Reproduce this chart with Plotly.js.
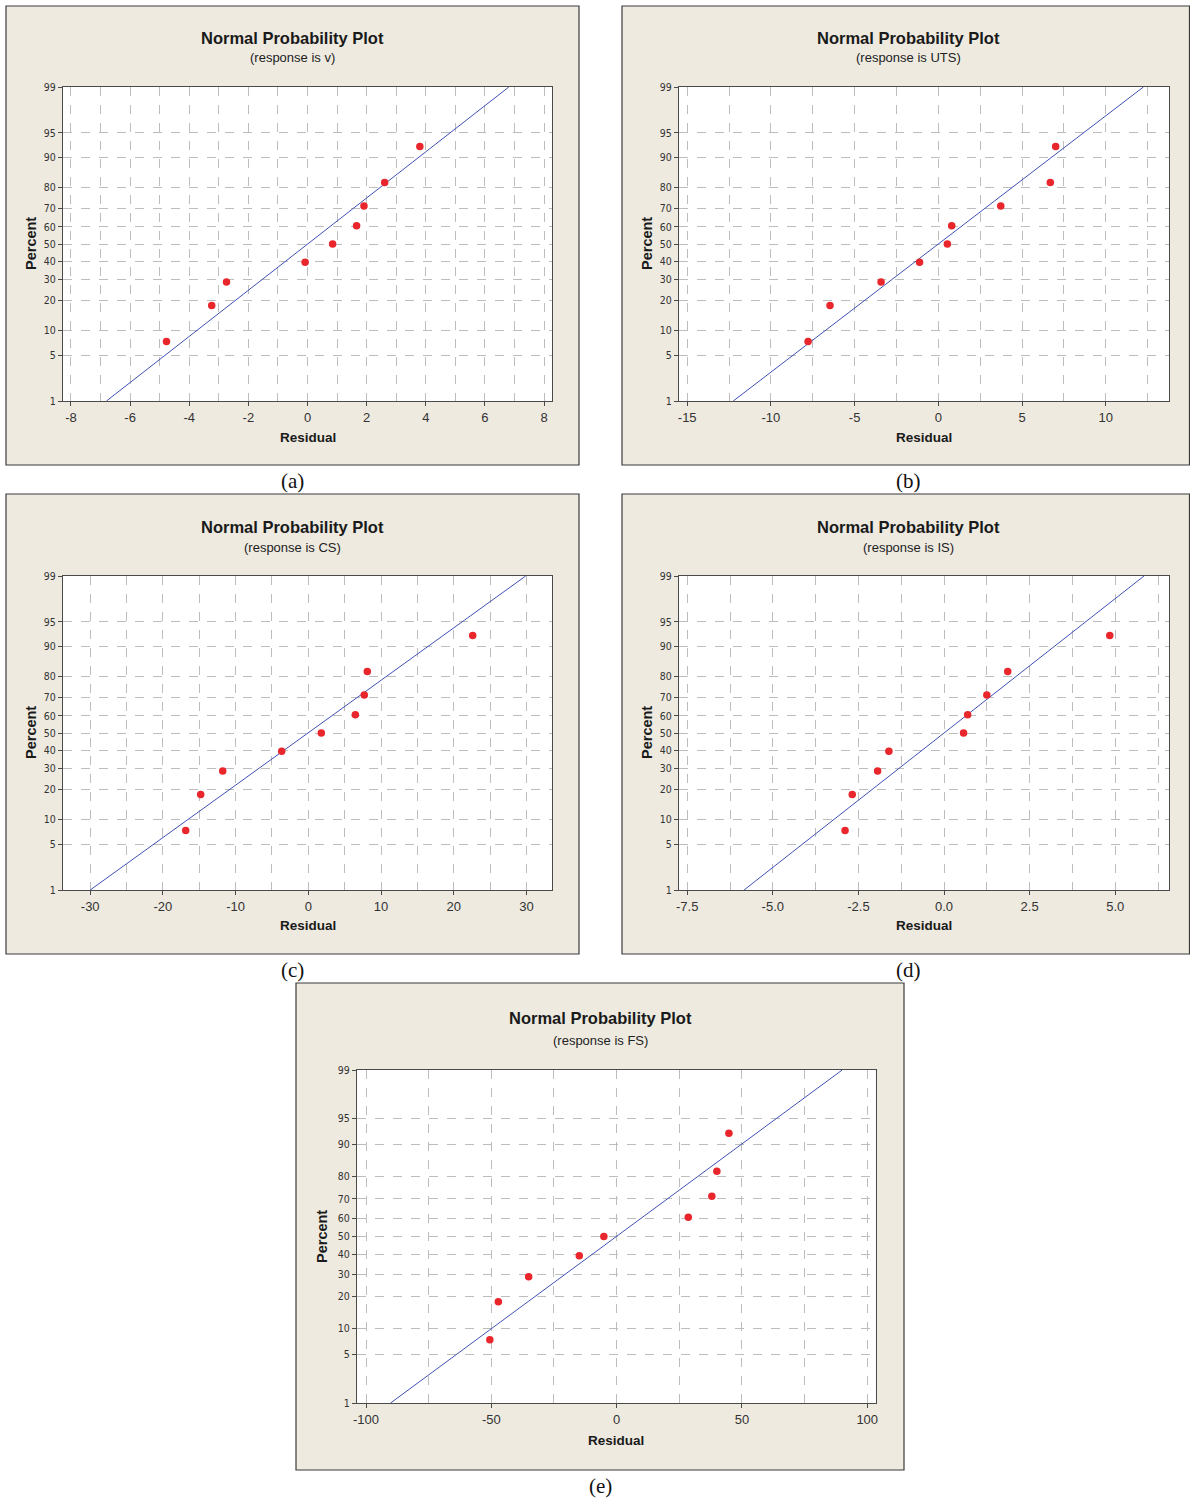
<!DOCTYPE html>
<html>
<head>
<meta charset="utf-8">
<script src="https://cdn.plot.ly/plotly-3.0.1.min.js"></script>
<style>
  html, body { margin: 0; padding: 0; background: #ffffff; }
  #chart { width: 1190px; height: 1500px; }
</style>
</head>
<body>
<div id="chart"></div>
<script>
// ---------------- DATA ----------------
// Plotting positions (percent) for the 9 ordered residuals
const percents = [7.45, 18.09, 28.72, 39.36, 50, 60.64, 71.28, 81.91, 92.55];
// Ordered residuals
const residV   = [-4.77, -3.24, -2.74, -0.08, 0.85, 1.66, 1.91, 2.61, 3.80];
const residUTS = [-7.78, -6.47, -3.42, -1.12, 0.54, 0.80, 3.73, 6.69, 7.01];
const residCS  = [-16.86, -14.80, -11.77, -3.66, 1.79, 6.47, 7.70, 8.12, 22.61];
const residIS  = [-2.89, -2.68, -1.94, -1.61, 0.57, 0.69, 1.25, 1.86, 4.84];
const residFS  = [-50.6, -47.2, -35.1, -14.9, -5.1, 28.6, 38.0, 40.0, 44.8];
// Fitted normal line: residual at 1% and at 99%
const linePct  = [1, 99];
const lineV    = [-6.80, 6.81];
const lineUTS  = [-12.25, 12.25];
const lineCS   = [-30.0, 29.9];
const lineIS   = [-5.84, 5.84];
const lineFS   = [-90.2, 90.0];
// Tick labels
const pctTicks = [1, 5, 10, 20, 30, 40, 50, 60, 70, 80, 90, 95, 99];
const xTicksV   = [-8, -6, -4, -2, 0, 2, 4, 6, 8];
const xTicksUTS = [-15, -10, -5, 0, 5, 10];
const xTicksCS  = [-30, -20, -10, 0, 10, 20, 30];
const xTicksIS  = [-7.5, -5.0, -2.5, 0.0, 2.5, 5.0];
const xTicksFS  = [-100, -50, 0, 50, 100];
const responses = ["v", "UTS", "CS", "IS", "FS"];
const captions  = ["(a)", "(b)", "(c)", "(d)", "(e)"];

// ---------------- helpers ----------------
const W = 1190, H = 1500;
function norminv(p) {
  const a=[-3.969683028665376e+01,2.209460984245205e+02,-2.759285104469687e+02,1.383577518672690e+02,-3.066479806614716e+01,2.506628277459239e+00];
  const b=[-5.447609879822406e+01,1.615858368580409e+02,-1.556989798598866e+02,6.680131188771972e+01,-1.328068155288572e+01];
  const c=[-7.784894002430293e-03,-3.223964580411365e-01,-2.400758277161838e+00,-2.549732539343734e+00,4.374664141464968e+00,2.938163982698783e+00];
  const d=[7.784695709041462e-03,3.224671290700398e-01,2.445134137142996e+00,3.754408661907416e+00];
  const plow = 0.02425, phigh = 1 - plow;
  let q, r;
  if (p < plow) {
    q = Math.sqrt(-2*Math.log(p));
    return (((((c[0]*q+c[1])*q+c[2])*q+c[3])*q+c[4])*q+c[5])/((((d[0]*q+d[1])*q+d[2])*q+d[3])*q+1);
  }
  if (p <= phigh) {
    q = p - 0.5; r = q*q;
    return (((((a[0]*r+a[1])*r+a[2])*r+a[3])*r+a[4])*r+a[5])*q/(((((b[0]*r+b[1])*r+b[2])*r+b[3])*r+b[4])*r+1);
  }
  q = Math.sqrt(-2*Math.log(1-p));
  return -(((((c[0]*q+c[1])*q+c[2])*q+c[3])*q+c[4])*q+c[5])/((((d[0]*q+d[1])*q+d[2])*q+d[3])*q+1);
}
const z = pct => norminv(pct / 100);
const fx = px => px / W;
const fy = py => 1 - py / H;

// panel geometry (pixels)
const panels = [
  { res: residV,   line: lineV,   ticks: xTicksV,   lbl: xTicksV.map(String),  minor: 1,
    box: [6, 6, 579, 465],     plot: [63, 87, 552, 401],    range: [-8.27, 8.27],
    tx: 292, ty: 38, sy: 58, rx: 308, ry: 437, px: 31, py: 244, cx: 292, cy: 481 },
  { res: residUTS, line: lineUTS, ticks: xTicksUTS, lbl: xTicksUTS.map(String), minor: 2.5,
    box: [622, 6, 1189.5, 465], plot: [679, 87, 1169, 401],  range: [-15.49, 13.78],
    tx: 909, ty: 38, sy: 58, rx: 924, ry: 437, px: 647, py: 244, cx: 908, cy: 481 },
  { res: residCS,  line: lineCS,  ticks: xTicksCS,  lbl: xTicksCS.map(String),  minor: 5,
    box: [6, 494, 579, 954],   plot: [63, 576, 552, 890],   range: [-33.74, 33.52],
    tx: 292, ty: 527, sy: 547, rx: 308, ry: 926, px: 31, py: 733, cx: 292, cy: 970 },
  { res: residIS,  line: lineIS,  ticks: xTicksIS,  lbl: xTicksIS.map(v => v.toFixed(1)), minor: 1.25,
    box: [622, 494, 1189.5, 954], plot: [679, 576, 1169, 890], range: [-7.74, 6.57],
    tx: 909, ty: 527, sy: 547, rx: 924, ry: 926, px: 647, py: 733, cx: 908, cy: 970 },
  { res: residFS,  line: lineFS,  ticks: xTicksFS,  lbl: xTicksFS.map(String),  minor: 25,
    box: [296, 983, 904, 1470], plot: [357, 1070, 876, 1403], range: [-103.6, 103.5],
    tx: 600, ty: 1018, sy: 1040, rx: 616, ry: 1440, px: 322, py: 1237, cx: 600, cy: 1486 }
];

const AXC = '#4a4a4a', GRID = '#bdbdbd';
const FONT = 'Liberation Sans, Arial, sans-serif';
const NARROW = 'Liberation Sans Narrow, Arial Narrow, DejaVu Sans Condensed, Liberation Sans, sans-serif';
const data = [];
const layout = {
  width: W, height: H,
  margin: { l: 0, r: 0, t: 0, b: 0 },
  paper_bgcolor: '#ffffff', plot_bgcolor: '#ffffff',
  showlegend: false,
  shapes: [], annotations: []
};

panels.forEach((p, i) => {
  const k = i + 1, sx = k === 1 ? '' : String(k);
  data.push({
    type: 'scatter', mode: 'lines',
    x: p.line, y: linePct.map(z),
    xaxis: 'x' + sx, yaxis: 'y' + sx,
    line: { color: '#3f51b5', width: 1 }, hoverinfo: 'skip'
  });
  data.push({
    type: 'scatter', mode: 'markers',
    x: p.res, y: percents.map(z),
    xaxis: 'x' + sx, yaxis: 'y' + sx,
    marker: { color: '#e8262b', size: 7.5, line: { width: 0 } }
  });
  layout['xaxis' + sx] = {
    domain: [fx(p.plot[0]), fx(p.plot[2])], anchor: 'y' + sx,
    range: p.range, tickmode: 'array', tickvals: p.ticks, ticktext: p.lbl,
    showgrid: true, gridcolor: GRID, griddash: 'dash', gridwidth: 1,
    minor: { tickmode: 'linear', tick0: 0, dtick: p.minor, showgrid: true, gridcolor: GRID, griddash: 'dash', gridwidth: 1, ticks: '' },
    showline: true, mirror: true, linecolor: AXC, linewidth: 1.2,
    ticks: 'outside', ticklen: 4, tickcolor: AXC, zeroline: false,
    tickfont: { family: FONT, size: 13, color: '#333' }, fixedrange: true
  };
  layout['yaxis' + sx] = {
    domain: [fy(p.plot[3]), fy(p.plot[1])], anchor: 'x' + sx,
    range: [z(1), z(99)], tickmode: 'array',
    tickvals: pctTicks.map(z), ticktext: pctTicks.map(String),
    showgrid: true, gridcolor: GRID, griddash: 'dash', gridwidth: 1,
    showline: true, mirror: true, linecolor: AXC, linewidth: 1.2,
    ticks: 'outside', ticklen: 4, tickcolor: AXC, zeroline: false,
    tickfont: { family: NARROW, size: 10.5, color: '#333' }, fixedrange: true
  };
  layout.shapes.push({
    type: 'rect', xref: 'paper', yref: 'paper', layer: 'below',
    x0: fx(p.box[0]), x1: fx(p.box[2]), y0: fy(p.box[3]), y1: fy(p.box[1]),
    fillcolor: '#eeeae0', line: { color: '#3a3a3a', width: 1.2 }
  });
  layout.shapes.push({
    type: 'rect', xref: 'paper', yref: 'paper', layer: 'below',
    x0: fx(p.plot[0]), x1: fx(p.plot[2]), y0: fy(p.plot[3]), y1: fy(p.plot[1]),
    fillcolor: '#ffffff', line: { width: 0 }
  });
  const ann = (x, y, text, font, extra) => layout.annotations.push(Object.assign({
    xref: 'paper', yref: 'paper', x: fx(x), y: fy(y), text, showarrow: false,
    xanchor: 'center', yanchor: 'middle', font
  }, extra || {}));
  ann(p.tx, p.ty, '<b>Normal Probability Plot</b>', { family: FONT, size: 16.5, color: '#1a1a1a' });
  ann(p.tx, p.sy, '(response is ' + responses[i] + ')', { family: FONT, size: 13, color: '#222' });
  ann(p.rx, p.ry, '<b>Residual</b>', { family: FONT, size: 13.5, color: '#1a1a1a' });
  ann(p.px, p.py, '<b>Percent</b>', { family: FONT, size: 14.5, color: '#1a1a1a' }, { textangle: -90 });
  ann(p.cx, p.cy, captions[i], { family: 'Liberation Serif, Times New Roman, serif', size: 21, color: '#111' });
});

Plotly.newPlot('chart', data, layout, { staticPlot: true, displayModeBar: false });
</script>
</body>
</html>
